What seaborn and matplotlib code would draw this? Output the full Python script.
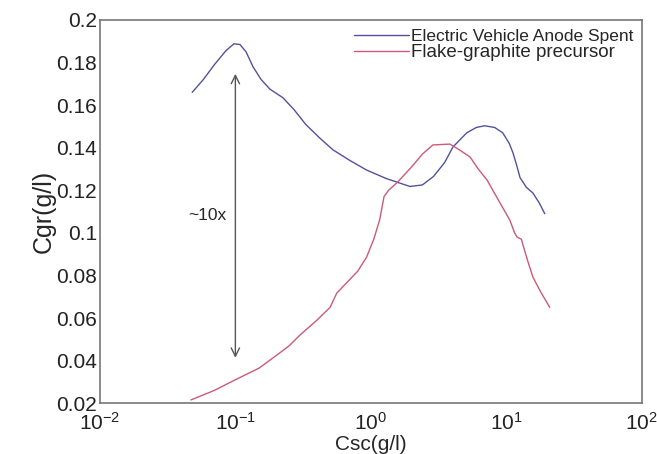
import numpy as np
import pandas as pd
import seaborn as sns
from matplotlib import pyplot as plt

# values
ev_csc = [0.048, 0.058, 0.07, 0.085, 0.0975, 0.108, 0.12, 0.135, 0.155, 0.18,
          0.224, 0.27, 0.33, 0.42, 0.525, 0.7, 0.93, 1.3, 1.94, 2.4, 2.9, 3.5,
          4.03, 5.1, 6.0, 6.9, 8.2, 9.4, 10.5, 11.2, 12.0, 12.6, 14.0, 15.7,
          17.5, 19.2]
ev_cgr = [0.166, 0.172, 0.179, 0.1855, 0.1888, 0.1885, 0.185, 0.178, 0.172,
          0.1675, 0.1635, 0.158, 0.151, 0.1445, 0.139, 0.134, 0.1295, 0.1255,
          0.1218, 0.1225, 0.1265, 0.133, 0.1403, 0.147, 0.1495, 0.1503, 0.1495,
          0.147, 0.142, 0.1375, 0.131, 0.126, 0.1215, 0.1187, 0.114, 0.109]

fg_csc = [0.047, 0.07, 0.1, 0.15, 0.2025, 0.25, 0.30, 0.40, 0.50, 0.56, 0.65,
          0.80, 0.93, 1.05, 1.16, 1.25, 1.35, 1.55, 2.0, 2.4, 2.87, 3.83, 4.5,
          5.4, 6.2, 7.2, 8.8, 10.6, 11.5, 12.0, 12.9, 13.3, 14.5, 15.7, 18.0,
          20.9]
fg_cgr = [0.0215, 0.026, 0.031, 0.0365, 0.0426, 0.047, 0.052, 0.059, 0.065,
          0.0717, 0.076, 0.082, 0.0886, 0.097, 0.106, 0.117, 0.120, 0.1234,
          0.131, 0.137, 0.1413, 0.1417, 0.139, 0.1356, 0.130, 0.1248, 0.115,
          0.106, 0.100, 0.098, 0.097, 0.094, 0.086, 0.0792, 0.072, 0.065]

ev_label = "Electric Vehicle Anode Spent"
fg_label = "Flake-graphite precursor"

sns.set_style("white")
plt.rcParams["font.family"] = ["Liberation Sans", "DejaVu Sans"]

fig = plt.figure(figsize=(6.57, 4.54), dpi=100)
ax = fig.add_axes([0.152, 0.112, 0.825, 0.844])

ev = pd.DataFrame({"csc": ev_csc, "cgr": ev_cgr})
fg = pd.DataFrame({"csc": fg_csc, "cgr": fg_cgr})
sns.lineplot(data=ev, x="csc", y="cgr", sort=False, color="#52529c",
             linewidth=1.0, label=ev_label, ax=ax)
sns.lineplot(data=fg, x="csc", y="cgr", sort=False, color="#cc5a78",
             linewidth=1.0, label=fg_label, ax=ax)

ax.set_xscale("log")
ax.set_xlim(1e-2, 1e2)
ax.set_ylim(0.02, 0.2)
ax.set_xticks([1e-2, 1e-1, 1e0, 1e1, 1e2])
ax.set_yticks([0.02, 0.04, 0.06, 0.08, 0.1, 0.12, 0.14, 0.16, 0.18, 0.2])
ax.set_yticklabels(["0.02", "0.04", "0.06", "0.08", "0.1", "0.12", "0.14",
                    "0.16", "0.18", "0.2"])
ax.minorticks_off()
ax.tick_params(length=0, labelsize=15, colors="#222222")
ax.tick_params(axis="x", pad=6)
ax.tick_params(axis="y", pad=2)
ax.set_xlabel("Csc(g/l)", fontsize=15, labelpad=1)
ax.set_ylabel("Cgr(g/l)", fontsize=18, labelpad=0)
for s in ax.spines.values():
    s.set_color("#777777")
    s.set_linewidth(1.2)

# ~10x arrow
ax.annotate("", xy=(0.1, 0.04), xytext=(0.1, 0.176),
            arrowprops=dict(arrowstyle="<->", color="#555555", lw=1.0,
                            mutation_scale=15))
ax.text(0.086, 0.108, "~10x", ha="right", va="center", fontsize=12.5)

leg = ax.legend(loc="upper right", frameon=False, fontsize=12.5,
                handlelength=3.2, handletextpad=0.1, borderaxespad=0.1,
                labelspacing=0.0)
leg.get_texts()[1].set_fontsize(13.5)

fig.savefig("out.png", dpi=100)
